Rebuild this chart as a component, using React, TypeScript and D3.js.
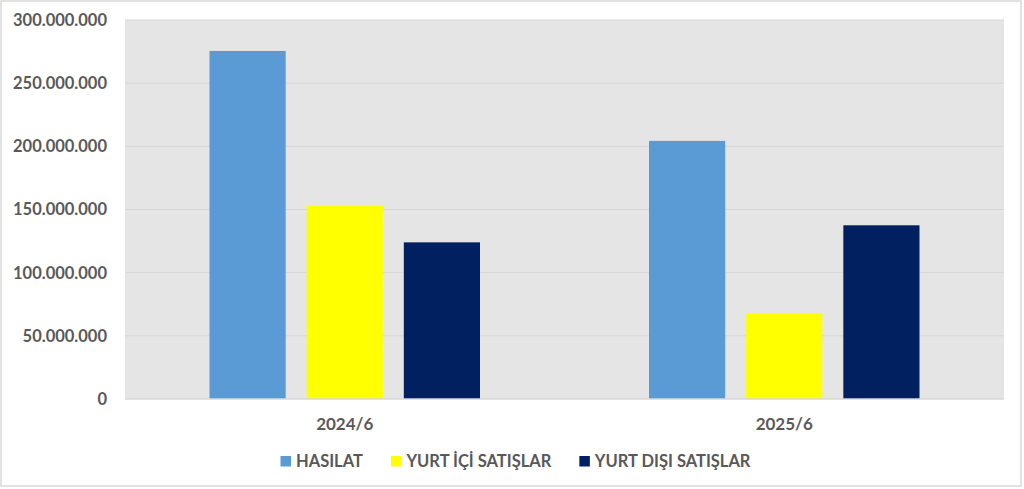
import { useRef, useEffect } from "react";
import * as d3 from "d3";

const periods = ["2024/6", "2025/6"];
const seriesNames = ["HASILAT", "YURT İÇİ SATIŞLAR", "YURT DIŞI SATIŞLAR"];
const seriesColors = ["#5b9bd5", "#ffff00", "#002060"];
const hasilat = [275500000, 204300000];
const yurtIci = [153000000, 67800000];
const yurtDisi = [124000000, 137500000];
const yTicks = [0, 50000000, 100000000, 150000000, 200000000, 250000000, 300000000];

const W = 1024, H = 489;
const FONT = "Lato, 'Liberation Sans', Arial, sans-serif";

export default function App() {
  const ref = useRef<SVGSVGElement>(null);

  useEffect(() => {
    if (!ref.current) return;
    const svg = d3.select(ref.current); svg.selectAll("*").remove();
    const margin = { top: 20, right: 20, bottom: 90, left: 125 };
    const plotW = W - margin.left - margin.right;
    const plotH = 399 - margin.top;
    const trFmt = d3.formatLocale({ decimal: ",", thousands: ".", grouping: [3], currency: ["", ""] }).format(",");

    svg.append("rect").attr("x", 1).attr("y", 1).attr("width", W - 4).attr("height", H - 4)
      .attr("fill", "#fff").attr("stroke", "#d9d9d9").attr("stroke-width", 1.5);

    const g = svg.append("g").attr("transform", `translate(${margin.left},${margin.top})`);
    const x0 = d3.scaleBand().domain(periods).range([0, plotW]);
    const groupW = 270.5;
    const x1 = d3.scaleBand().domain(seriesNames).range([-groupW / 2, groupW / 2]).paddingInner(0.216).paddingOuter(0);
    const y = d3.scaleLinear().domain([0, 300000000]).range([plotH, 0]);

    g.append("rect").attr("width", plotW).attr("height", plotH).attr("fill", "#e5e5e5");
    g.selectAll(".grid").data(yTicks.filter(t => t > 0)).join("line")
      .attr("x1", 0).attr("x2", plotW).attr("y1", d => y(d)).attr("y2", d => y(d))
      .attr("stroke", "#d6d6d6").attr("stroke-width", 1);

    const rows = periods.map((p, i) => ({ period: p, values: [hasilat[i], yurtIci[i], yurtDisi[i]] }));
    const groups = g.selectAll(".grp").data(rows).join("g")
      .attr("transform", d => `translate(${x0(d.period)! + x0.bandwidth() / 2},0)`);
    groups.selectAll("rect").data(d => d.values.map((v, k) => ({ name: seriesNames[k], v, k }))).join("rect")
      .attr("x", d => x1(d.name)!).attr("width", x1.bandwidth())
      .attr("y", d => y(d.v)).attr("height", d => plotH - y(d.v))
      .attr("fill", d => seriesColors[d.k]);

    g.append("line").attr("x1", 0).attr("x2", plotW).attr("y1", plotH).attr("y2", plotH)
      .attr("stroke", "#d9d9d9").attr("stroke-width", 1.5);

    g.selectAll(".ylab").data(yTicks).join("text")
      .attr("x", -18).attr("y", d => y(d)).attr("dy", "0.36em").attr("text-anchor", "end")
      .attr("fill", "#595959").attr("font-size", "16.5px").attr("font-weight", "bold").attr("font-family", FONT)
      .text(d => trFmt(d));

    g.selectAll(".xlab").data(periods).join("text")
      .attr("x", d => x0(d)! + x0.bandwidth() / 2).attr("y", plotH + 25).attr("dy", "0.36em").attr("text-anchor", "middle")
      .attr("fill", "#595959").attr("font-size", "17px").attr("font-weight", "bold").attr("font-family", FONT)
      .text(d => d);

    // legend
    const leg = svg.append("g");
    let cx = 0;
    seriesNames.forEach((name, i) => {
      const it = leg.append("g").attr("transform", `translate(${cx},0)`);
      it.append("rect").attr("x", 0).attr("y", 456).attr("width", 10.5).attr("height", 10.5).attr("fill", seriesColors[i]);
      const t = it.append("text").attr("x", 15.5).attr("y", 461).attr("dy", "0.36em")
        .attr("fill", "#595959").attr("font-size", "16.5px").attr("font-weight", "bold").attr("font-family", FONT)
        .text(name);
      const tw = (t.node() as SVGTextElement).getComputedTextLength();
      cx += 15.5 + tw + 28;
    });
    const total = cx - 28;
    leg.attr("transform", `translate(${515.5 - total / 2},0)`);
  }, []);

  return (
    <div style={{ position: "absolute", left: 0, top: 0 }}>
      <svg ref={ref} width={W} height={H} style={{ display: "block" }} />
    </div>
  );
}
